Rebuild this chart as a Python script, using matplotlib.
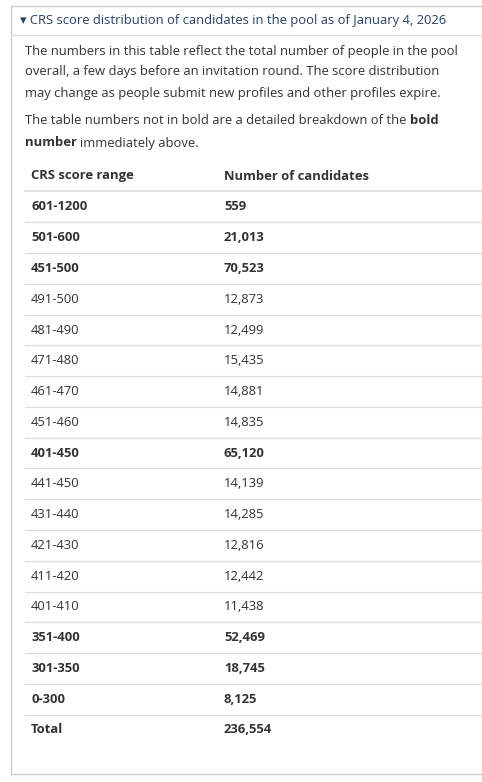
import matplotlib
matplotlib.use("Agg")
import matplotlib.pyplot as plt

title = "▾ CRS score distribution of candidates in the pool as of January 4, 2026"
para1 = ["The numbers in this table reflect the total number of people in the pool",
         "overall, a few days before an invitation round. The score distribution",
         "may change as people submit new profiles and other profiles expire."]
col_headers = ["CRS score range", "Number of candidates"]
ranges = ["601-1200", "501-600", "451-500", "491-500", "481-490", "471-480", "461-470",
          "451-460", "401-450", "441-450", "431-440", "421-430", "411-420", "401-410",
          "351-400", "301-350", "0-300", "Total"]
counts = [559, 21013, 70523, 12873, 12499, 15435, 14881, 14835, 65120, 14139, 14285,
          12816, 12442, 11438, 52469, 18745, 8125, 236554]
bold = [True, True, True, False, False, False, False, False, True, False, False,
        False, False, False, True, True, True, True]

plt.rcParams['font.family'] = ['Open Sans', 'DejaVu Sans']
fig = plt.figure(figsize=(4.82, 7.82), dpi=100)
ax = fig.add_axes([0, 0, 1, 1])
ax.set_xlim(0, 482); ax.set_ylim(782, 0); ax.axis('off')

txt = '#333333'; line = '#dddddd'; fs = 9.4
ax.plot([11, 11, 490], [6, 774, 774], color='#cccccc', lw=1)
ax.plot([11, 490], [6, 6], color='#cccccc', lw=1)
ax.plot([11, 490], [35, 35], color='#dddddd', lw=1)
ax.text(20, 20.5, title, color='#284162', fontsize=fs, va='center')

for i, l in enumerate(para1):
    ax.text(25, 51 + 21 * i, l, color=txt, fontsize=fs, va='center')
y2 = 121
fig.canvas.draw()
r = fig.canvas.get_renderer()
s1 = "The table numbers not in bold are a detailed breakdown of the "
t1 = ax.text(25, y2, s1, color=txt, fontsize=fs, va='center')
ax.text(t1.get_window_extent(r).x1, y2, "bold", color=txt, fontsize=fs, va='center', fontweight='bold')
t2 = ax.text(25, y2 + 22, "number ", color=txt, fontsize=fs, va='center', fontweight='bold')
ax.text(t2.get_window_extent(r).x1, y2 + 22, "immediately above.", color=txt, fontsize=fs, va='center')

ax.text(31, 176, col_headers[0], color=txt, fontsize=fs, fontweight='bold', va='center')
ax.text(224, 176, col_headers[1], color=txt, fontsize=fs, fontweight='bold', va='center')
step = 30.76
ax.plot([25, 482], [191, 191], color=line, lw=1.2)
for i, (rg, c, b) in enumerate(zip(ranges, counts, bold)):
    y = 207 + step * i
    w = 'bold' if b else 'normal'
    ax.text(31, y, rg, color=txt, fontsize=fs, fontweight=w, va='center')
    ax.text(224, y, f"{c:,}", color=txt, fontsize=fs, fontweight=w, va='center')
    if i < len(ranges) - 1:
        ax.plot([25, 482], [y + step / 2, y + step / 2], color=line, lw=1)

fig.savefig("out.png", dpi=100)
